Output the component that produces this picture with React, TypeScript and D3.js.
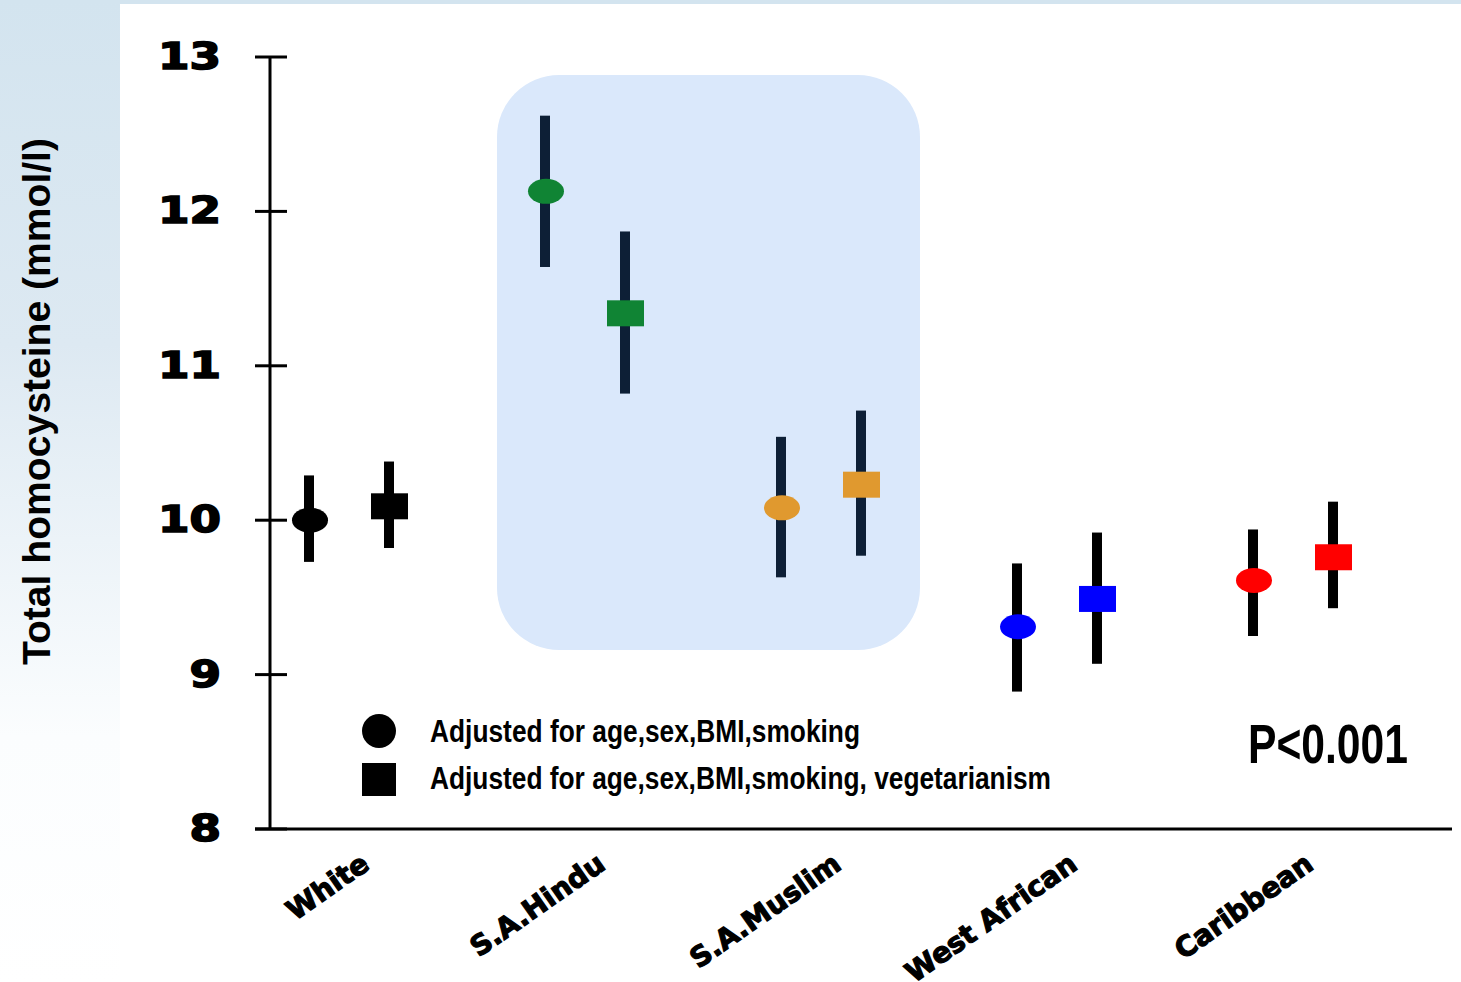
import React from "react";
import * as d3 from "d3";

const categories = ["White", "S.A.Hindu", "S.A.Muslim", "West African", "Caribbean"];
const colors = ["#000000", "#108434", "#E0992F", "#0000FF", "#FF0000"];
const barColors = ["#000000", "#0d1f36", "#0d1f36", "#000000", "#000000"];
// Adjusted for age, sex, BMI, smoking (circles)
const circleMean = [10.0, 12.13, 10.08, 9.31, 9.61];
const circleLow = [9.73, 11.64, 9.63, 8.89, 9.25];
const circleHigh = [10.29, 12.62, 10.54, 9.72, 9.94];
// + vegetarianism (squares)
const squareMean = [10.09, 11.34, 10.23, 9.49, 9.76];
const squareLow = [9.82, 10.82, 9.77, 9.07, 9.43];
const squareHigh = [10.38, 11.87, 10.71, 9.92, 10.12];
const yTicks = [8, 9, 10, 11, 12, 13];
const legendLabels = [
  "Adjusted for age,sex,BMI,smoking",
  "Adjusted for age,sex,BMI,smoking, vegetarianism",
];
const yTitle = "Total homocysteine (mmol/l)";
const pText = "P<0.001";

export default function App() {
  const W = 1461, H = 982;
  const y = d3.scaleLinear().domain([8, 13]).range([829, 57]);
  const x = d3.scaleBand().domain(categories).range([231, 1411]).paddingInner(0).paddingOuter(0);
  const cx = (c: string) => (x(c) as number) + x.bandwidth() / 2;
  const off = 40;
  const wideFont = "'DejaVu Sans', Verdana, sans-serif";
  const narrowFont = "'Liberation Sans Narrow', 'Arial Narrow', 'Liberation Sans', sans-serif";

  return (
    <svg width={W} height={H} style={{ position: "fixed", left: 0, top: 0, background: "#fff" }}>
      <defs>
        <linearGradient id="bgL" x1="0" y1="0" x2="0" y2="1">
          <stop offset="0" stopColor="#d3e4ef" />
          <stop offset="0.35" stopColor="#dde9f2" />
          <stop offset="0.75" stopColor="#fbfdfe" />
          <stop offset="1" stopColor="#ffffff" />
        </linearGradient>
      </defs>
      <rect x={0} y={0} width={W} height={H} fill="url(#bgL)" />
      <rect x={0} y={0} width={W} height={4} fill="#d3e4ef" />
      <rect x={120} y={4} width={W - 120} height={H - 4} fill="#ffffff" />

      {/* highlight box */}
      <rect x={497} y={75} width={423} height={575} rx={62} ry={62} fill="#dae8fb" />

      {/* y title */}
      <text
        transform={`translate(50, ${(138 + 665) / 2}) rotate(-90)`}
        textAnchor="middle"
        fontFamily="'Liberation Sans', Arial, sans-serif"
        fontWeight="bold"
        fontSize={38}
        fill="#000"
        textLength={527}
        lengthAdjust="spacingAndGlyphs"
      >
        {yTitle}
      </text>

      {/* axes */}
      <line x1={270} x2={270} y1={y(13)} y2={y(8)} stroke="#000" strokeWidth={3} />
      <line x1={255} x2={1452} y1={y(8)} y2={y(8)} stroke="#000" strokeWidth={3} />
      {yTicks.map((t) => (
        <g key={t}>
          <line x1={255} x2={287} y1={y(t)} y2={y(t)} stroke="#000" strokeWidth={3} />
          <text
            x={221}
            y={y(t) + 12}
            textAnchor="end"
            fontFamily={wideFont}
            fontWeight="bold"
            fontSize={37}
            fill="#000"
            stroke="#000"
            strokeWidth={1.6}
            textLength={String(t).length * 31.5}
            lengthAdjust="spacingAndGlyphs"
          >
            {t}
          </text>
        </g>
      ))}

      {/* x labels */}
      {categories.map((c) => (
        <text
          key={c}
          transform={`translate(${cx(c) + 22}, 868) rotate(-35)`}
          textAnchor="end"
          fontFamily={wideFont}
          fontWeight="bold"
          fontSize={28}
          fill="#000"
          stroke="#000"
          strokeWidth={1.2}
        >
          {c}
        </text>
      ))}

      {/* error bars + markers */}
      {categories.map((c, i) => (
        <g key={c}>
          <rect
            x={cx(c) - off - 5}
            y={y(circleHigh[i])}
            width={10}
            height={y(circleLow[i]) - y(circleHigh[i])}
            fill={barColors[i]}
          />
          <ellipse cx={cx(c) - off + 1} cy={y(circleMean[i])} rx={18} ry={12.5} fill={colors[i]} />
          <rect
            x={cx(c) + off - 5}
            y={y(squareHigh[i])}
            width={10}
            height={y(squareLow[i]) - y(squareHigh[i])}
            fill={barColors[i]}
          />
          <rect
            x={cx(c) + off - 18}
            y={y(squareMean[i]) - 13}
            width={37}
            height={26}
            fill={colors[i]}
          />
        </g>
      ))}

      {/* legend */}
      <circle cx={379} cy={731} r={17} fill="#000" />
      <rect x={362} y={763} width={34} height={33} fill="#000" />
      <text x={430} y={742} fontFamily={narrowFont} fontWeight="bold" fontSize={31} fill="#000"
        textLength={430} lengthAdjust="spacingAndGlyphs">
        {legendLabels[0]}
      </text>
      <text x={430} y={789} fontFamily={narrowFont} fontWeight="bold" fontSize={31} fill="#000"
        textLength={621} lengthAdjust="spacingAndGlyphs">
        {legendLabels[1]}
      </text>

      <text x={1248} y={763} fontFamily={narrowFont} fontWeight="bold" fontSize={55} fill="#000"
        textLength={160} lengthAdjust="spacingAndGlyphs">
        {pText}
      </text>
    </svg>
  );
}
